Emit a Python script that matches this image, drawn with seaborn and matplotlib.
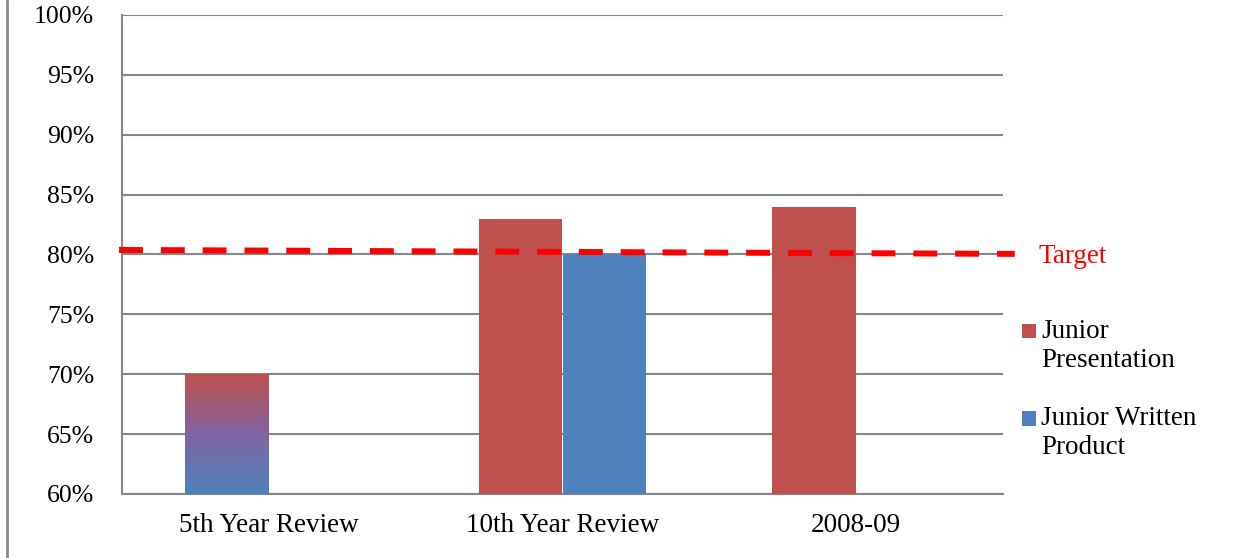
import numpy as np
import pandas as pd
import matplotlib
matplotlib.use("Agg")
import matplotlib.pyplot as plt
import seaborn as sns
from matplotlib.colors import LinearSegmentedColormap
from matplotlib.lines import Line2D
from matplotlib.legend_handler import HandlerBase
from matplotlib.patches import Rectangle

categories = ["5th Year Review", "10th Year Review", "2008-09"]
series_names = ["Junior Presentation", "Junior Written Product"]
presentation = [70, 83, 84]
written = [np.nan, 80, np.nan]
target_left = 80.38
target_right = 80.05
yticks = [60, 65, 70, 75, 80, 85, 90, 95, 100]
ytick_labels = [f"{v}%" for v in yticks]
gradient_colors = ["#4F81BD", "#8064A2", "#C0504D"]  # bottom -> top

df = pd.DataFrame({
    "category": categories * 2,
    "series": [series_names[0]] * 3 + [series_names[1]] * 3,
    "value": presentation + written,
})

sns.set_theme(style="white")
plt.rcParams["font.family"] = ["Liberation Serif", "DejaVu Serif"]

fig = plt.figure(figsize=(12.33, 5.58), dpi=100)
ax = fig.add_axes([122 / 1233, 1 - 494 / 558, (1003 - 122) / 1233, (494 - 15) / 558])

sns.barplot(data=df, x="category", y="value", hue="series", order=categories,
            hue_order=series_names, palette=["#C0504D", "#4F81BD"],
            width=0.572, dodge=True, saturation=1, ax=ax, legend=True, zorder=3,
            linewidth=0, edgecolor="none")

ymin, ymax = 60, 100
ax.set_ylim(ymin, ymax)
ax.set_xlim(-0.5, 2.5)
ax.set_yticks(yticks)
ax.set_yticklabels(ytick_labels, fontsize=18.5)
ax.set_xlabel("")
ax.set_ylabel("")
ax.tick_params(axis="x", labelsize=19.5, length=0, pad=14)
ax.set_xticks([-0.5, 0.5, 1.5, 2.5], minor=True)
ax.tick_params(axis="x", which="minor", length=8, width=1.5, color="#868686", direction="out")
ax.tick_params(axis="y", length=9, width=1.5, color="#868686", direction="out", pad=11)
ax.yaxis.grid(True, color="#868686", linewidth=1.5, zorder=0)
ax.set_axisbelow(True)
for s in ["top", "right"]:
    ax.spines[s].set_visible(False)
for s in ["left", "bottom"]:
    ax.spines[s].set_color("#868686")
    ax.spines[s].set_linewidth(1.5)
for lab in ax.get_yticklabels() + ax.get_xticklabels():
    lab.set_color("black")

# gradient fill for first presentation bar
first_patch = ax.containers[0].patches[0]
x0 = first_patch.get_x()
w = first_patch.get_width()
top = first_patch.get_y() + first_patch.get_height()
cmap = LinearSegmentedColormap.from_list("grad", gradient_colors)
grad = np.linspace(0, 1, 256).reshape(-1, 1)
im = ax.imshow(grad, extent=[x0, x0 + w, ymin, top], origin="lower", cmap=cmap,
               aspect="auto", zorder=4, interpolation="bilinear")
ax.set_xlim(-0.5, 2.5)
ax.set_ylim(ymin, ymax)

# target line
ax.plot([-0.51, 2.54], [target_left, target_right], color="#FF0000", linewidth=4.3,
        dashes=(4.0, 3.0), clip_on=False, zorder=5, dash_capstyle="butt")
ax.text(2.62, 79.85, "Target", color="#FF0000", fontsize=19.5, va="center", ha="left")


class TopSquare(HandlerBase):
    def create_artists(self, legend, orig_handle, xdescent, ydescent, width, height,
                       fontsize, trans):
        s = 0.52 * fontsize
        r = Rectangle((-xdescent, 0.64 * fontsize), s, s,
                      facecolor=orig_handle.get_facecolor(), edgecolor="none",
                      transform=trans)
        return [r]


handles, labels = ax.get_legend_handles_labels()
leg = ax.legend(handles, ["Junior\nPresentation", "Junior Written\nProduct"],
                loc="upper left", bbox_to_anchor=(1011 / 1233, 1 - 308 / 558),
                bbox_transform=fig.transFigure, frameon=False, fontsize=19.5,
                handlelength=0.52, handleheight=0.7, handletextpad=0.2,
                labelspacing=1.25, borderaxespad=0,
                handler_map={type(handles[0]): TopSquare()})
for t in leg.get_texts():
    t.set_color("black")
    t.set_linespacing(1.2)

# left border line
fig.add_artist(Line2D([7 / 1233, 7 / 1233], [0, 1], color="#8a8a8a", linewidth=2,
                      transform=fig.transFigure))

fig.savefig("out.png", dpi=100)
